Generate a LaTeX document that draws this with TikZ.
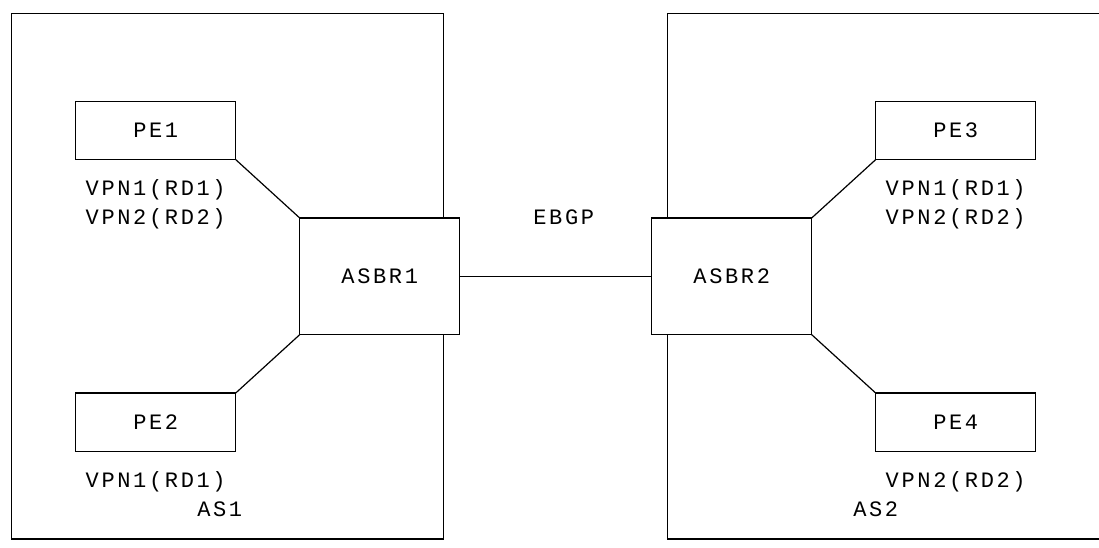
\documentclass[tikz,border=0pt]{standalone}
\usepackage{fontspec}
\newfontfamily\asciifont[LetterSpace=12]{Liberation Mono}
\usetikzlibrary{positioning}

\begin{document}
\begin{tikzpicture}[
    x=8pt, y=-14.59pt,
    node distance=96pt,
    region/.style={draw, line width=0.6pt, minimum width=216pt, minimum height=262.62pt, inner sep=0pt, outer sep=0pt},
    box/.style={draw, line width=0.6pt, fill=white, minimum width=80pt, minimum height=29.18pt, inner sep=0pt, outer sep=0pt, font=\fontsize{11pt}{13pt}\asciifont, text height=7pt, text depth=0pt},
    asbr/.style={box, minimum height=58.36pt},
    txt/.style={inner sep=0pt, font=\fontsize{11pt}{13pt}\asciifont, text height=7pt, text depth=0pt},
    link/.style={line width=0.6pt}
]
\path[clip, use as bounding box] (-0.731,-0.4695) rectangle (67.956,18.277);

% Autonomous systems
\node[region] (as1) at (13.5,9) {};
\node[region] (as2) at (54.5,9) {};
\node[txt] (as1name) at (13,17) {AS1};
\node[txt] (as2name) at (54,17) {AS2};

% PE routers
\node[box] (pe1) at (9,4) {PE1};
\node[box] (pe2) at (9,14) {PE2};
\node[box] (pe3) at (59,4) {PE3};
\node[box] (pe4) at (59,14) {PE4};

\node[txt] (pe1vpn1) at (9,6) {VPN1(RD1)};
\node[txt] (pe1vpn2) at (9,7) {VPN2(RD2)};
\node[txt] (pe2vpn1) at (9,16) {VPN1(RD1)};
\node[txt] (pe3vpn1) at (59,6) {VPN1(RD1)};
\node[txt] (pe3vpn2) at (59,7) {VPN2(RD2)};
\node[txt] (pe4vpn2) at (59,16) {VPN2(RD2)};

% Border routers
\node[asbr] (asbr1) at (23,9) {ASBR1};
\node[asbr, right=of asbr1] (asbr2) {ASBR2};
\node[txt] (ebgp) at (34.5,7) {EBGP};

% Links
\draw[link] (pe1.south east) -- (asbr1.north west);
\draw[link] (pe2.north east) -- (asbr1.south west);
\draw[link] (asbr2.north east) -- (pe3.south west);
\draw[link] (asbr2.south east) -- (pe4.north west);
\draw[link] (asbr1.east) -- (asbr2.west);

\end{tikzpicture}
\end{document}
